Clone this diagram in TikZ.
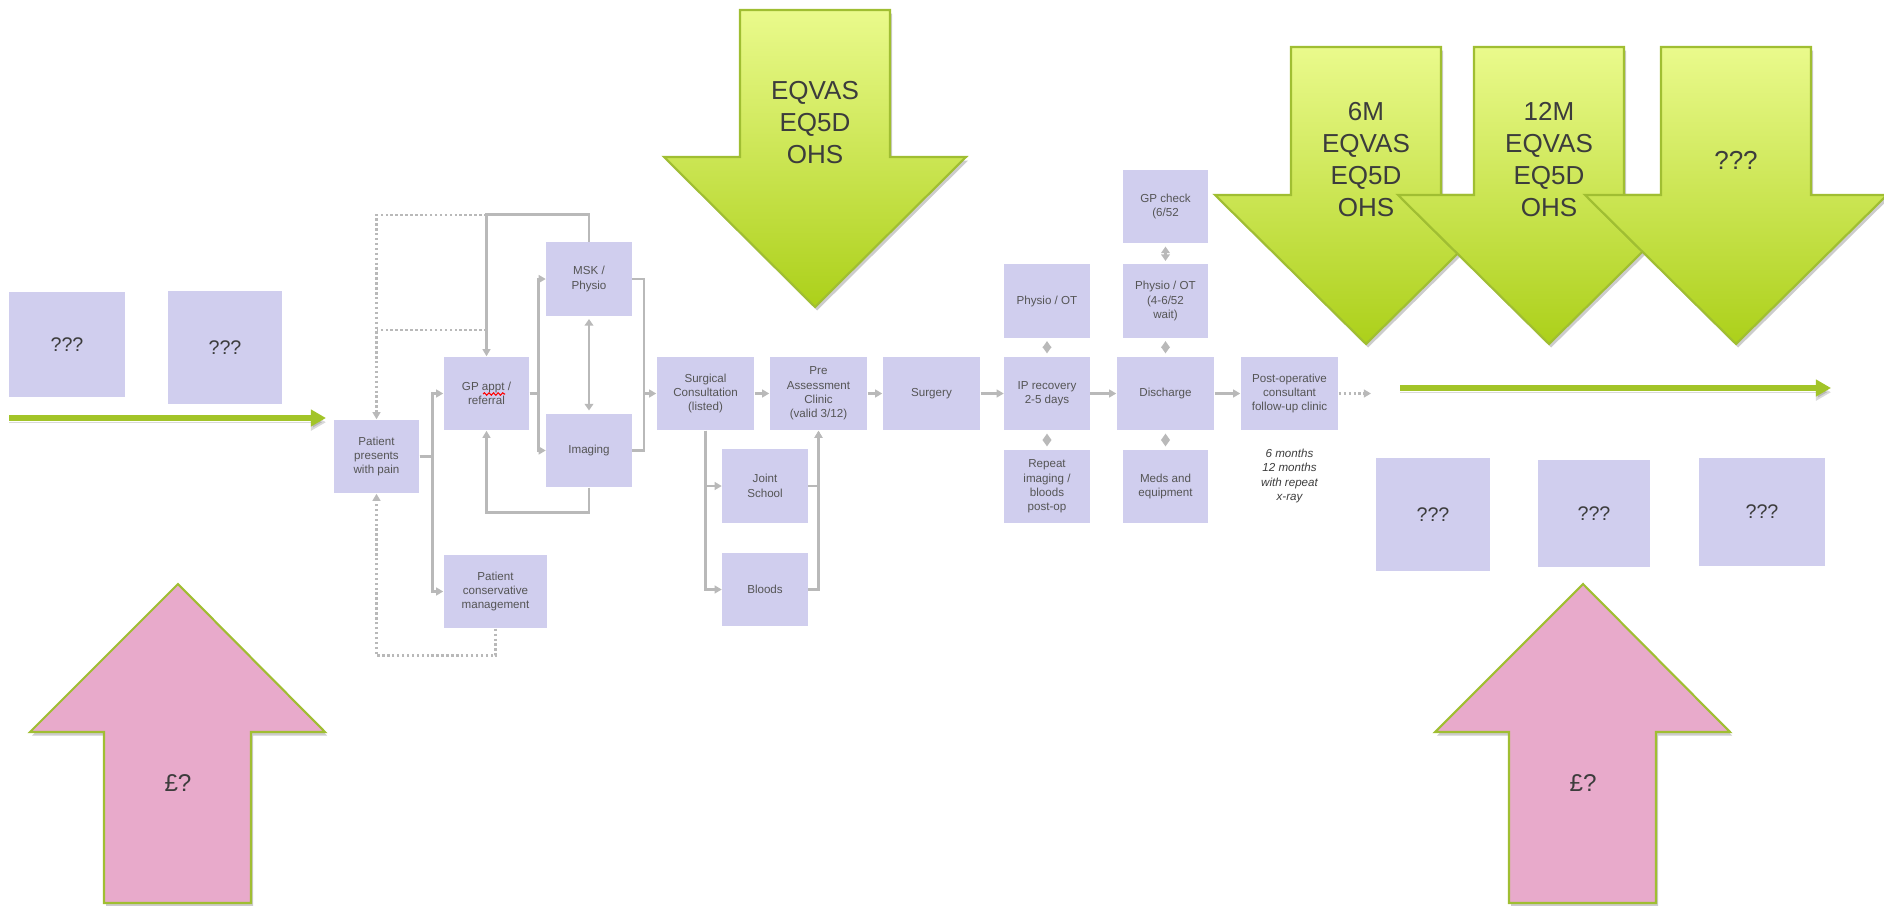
\documentclass[tikz,border=0pt]{standalone}
\usepackage{fontspec}
\setmainfont{Liberation Sans}
\usetikzlibrary{arrows.meta,shadows,decorations.pathmorphing}

\definecolor{boxfill}{RGB}{208,206,238}
\definecolor{boxtext}{RGB}{85,85,85}
\definecolor{darktext}{RGB}{60,60,60}
\definecolor{linegray}{RGB}{185,185,185}
\definecolor{timegreen}{RGB}{162,196,40}
\definecolor{arrowtop}{RGB}{234,250,140}
\definecolor{arrowbot}{RGB}{172,208,26}
\definecolor{arrowedge}{RGB}{160,190,50}
\definecolor{costpink}{RGB}{232,170,203}

\tikzset{
  flowbox/.style={fill=boxfill, text=boxtext, inner sep=0pt, minimum width=0.85cm,
    minimum height=0.73cm, align=center, font=\fontsize{3.3}{4.1}\selectfont},
  widebox/.style={flowbox, minimum width=0.97cm},
  qbox/.style={fill=boxfill, text=darktext, inner sep=0pt, font=\fontsize{5.6}{6.7}\selectfont},
  wire/.style={draw=linegray, line width=0.8pt},
  conn/.style={wire, -{Triangle[length=2pt,width=2.2pt]}},
  dotconn/.style={conn, dash pattern=on 0.7pt off 0.7pt},
  twoway/.style={wire, shorten <=0.8pt, shorten >=0.8pt,
    {Triangle[length=1.9pt,width=2.5pt]}-{Triangle[length=1.9pt,width=2.5pt]}},
  timeline/.style={draw=timegreen, line width=1.7pt, -{Triangle[length=4.3pt,width=4.6pt]},
    preaction={draw=black, opacity=0.15, transform canvas={yshift=-1.2pt}}},
  measure/.style={draw=arrowedge, line width=0.6pt, top color=arrowtop, bottom color=arrowbot,
    drop shadow={shadow xshift=0.6pt, shadow yshift=-1pt, fill=black, opacity=0.2}},
  measuretext/.style={text=darktext, align=center, font=\fontsize{7.4}{9.1}\selectfont},
  cost/.style={draw=arrowedge, line width=0.6pt, fill=costpink,
    drop shadow={shadow xshift=0.6pt, shadow yshift=-1pt, fill=black, opacity=0.2}},
  note/.style={text=darktext, align=center, font=\fontsize{3.3}{4.1}\selectfont\itshape}
}

\begin{document}
\begin{tikzpicture}[x=0.01cm,y=-0.01cm]
    \useasboundingbox (0,0) rectangle (1884,906);

    %% cost arrows
    \draw[cost] (178,584) -- ++(147,148) -- ++(-74,0) -- ++(0,171) -- ++(-147,0) -- ++(0,-171) -- ++(-74,0) -- cycle;
    \node[text=darktext, font=\fontsize{6.9}{8}\selectfont] (costa) at (178,783) {£?};
    \draw[cost] (1583,584) -- ++(147,148) -- ++(-74,0) -- ++(0,171) -- ++(-147,0) -- ++(0,-171) -- ++(-74,0) -- cycle;
    \node[text=darktext, font=\fontsize{6.9}{8}\selectfont] (costb) at (1583,783) {£?};

    %% unknown boxes
    \node[qbox, minimum width=1.16cm, minimum height=1.05cm] (qa) at (67,344.5) {???};
    \node[qbox, minimum width=1.14cm, minimum height=1.13cm] (qb) at (225,347.5) {???};
    \node[qbox, minimum width=1.14cm, minimum height=1.13cm] (qc) at (1433,514.5) {???};
    \node[qbox, minimum width=1.12cm, minimum height=1.07cm] (qd) at (1594,513.5) {???};
    \node[qbox, minimum width=1.26cm, minimum height=1.08cm] (qe) at (1762,512) {???};

    %% time lines
    \coordinate (ta) at (9,418);
    \coordinate (tb) at (326,418);
    \coordinate (tc) at (1400,388);
    \coordinate (td) at (1831,388);
    \draw[timeline] (ta) -- (tb);
    \draw[timeline] (tc) -- (td);

    %% pathway boxes
    \node[flowbox] (pres) at (376.5,456.5) {Patient\\presents\\with pain};
    \node[flowbox] (gp) at (486.5,393.5) {GP appt /\\referral};
    \node[flowbox] (msk) at (589,279) {MSK /\\Physio};
    \node[flowbox] (img) at (589,450.5) {Imaging};
    \node[flowbox, minimum width=1.03cm] (cons) at (495.5,591.5) {Patient\\conservative\\management};
    \node[widebox] (sc) at (705.5,393.5) {Surgical\\Consultation\\(listed)};
    \node[widebox] (pac) at (818.5,393.5) {Pre\\Assessment\\Clinic\\(valid 3/12)};
    \node[widebox] (surg) at (931.5,393.5) {Surgery};
    \node[flowbox] (joint) at (765,486) {Joint\\School};
    \node[flowbox] (bloods) at (765,589.5) {Bloods};
    \node[flowbox] (ip) at (1047,393.5) {IP recovery\\2-5 days};
    \node[flowbox] (ipot) at (1047,301) {Physio / OT};
    \node[flowbox] (rep) at (1047,486.5) {Repeat\\imaging /\\bloods\\post-op};
    \node[widebox] (dis) at (1165.5,393.5) {Discharge};
    \node[flowbox] (dcot) at (1165.5,301) {Physio / OT\\(4-6/52\\wait)};
    \node[flowbox] (gpc) at (1165.5,206.5) {GP check\\(6/52};
    \node[flowbox] (meds) at (1165.5,486.5) {Meds and\\equipment};
    \node[widebox] (post) at (1289.5,393.5) {Post-operative\\consultant\\follow-up clinic};
    \node[note] (fu) at (1289.5,476) {6 months\\12 months\\with repeat\\x-ray};

    %% spelling mark under appt
    \draw[red, line width=0.3pt, decorate, decoration={snake, segment length=1.3pt, amplitude=0.35pt}] (483,394) -- (505,394);

    %% connectors, first part
    \draw[conn] (pres.east) -- ++(13,0) |- (gp.west);
    \draw[conn] (pres.east) -- ++(13,0) |- (cons.west);
    \draw[conn] (gp.east) -- ++(9,0) |- (msk.west);
    \draw[conn] (gp.east) -- ++(9,0) |- (img.west);
    \draw[twoway] (msk.south) -- (img.north);
    \draw[conn] (msk.north) -- ++(0,-27) -| (gp.north);
    \draw[conn] (img.south) -- ++(0,25) -| (gp.south);
    \coordinate (backa) at (486.5,215);
    \coordinate (backb) at (486.5,330);
    \draw[dotconn] (backa) -| (pres.north);
    \draw[wire, dash pattern=on 0.7pt off 0.7pt] (backb) -- (backb -| pres.north);
    \draw[dotconn] (cons.south) -- ++(0,27) -| (pres.south);
    \coordinate (mj) at (644,393.5);
    \draw[wire] (msk.east) -| (mj);
    \draw[wire] (img.east) -| (mj);
    \draw[conn] (mj) -- (sc.west);

    %% connectors, surgery part
    \draw[conn] (sc) -- (pac);
    \draw[conn] (pac) -- (surg);
    \draw[conn] (surg) -- (ip);
    \draw[conn] (ip) -- (dis);
    \draw[conn] (dis) -- (post);
    \draw[conn] (sc.south) |- (joint.west);
    \draw[conn] (sc.south) |- (bloods.west);
    \draw[conn] (joint.east) -| (pac.south);
    \draw[conn] (bloods.east) -| (pac.south);
    \draw[twoway] (ip) -- (ipot);
    \draw[twoway] (ip) -- (rep);
    \draw[twoway] (dis) -- (dcot);
    \draw[twoway] (dis) -- (meds);
    \draw[twoway] (dcot) -- (gpc);
    \coordinate (fwd) at (1371,393.5);
    \draw[dotconn] (post.east) -- (fwd);

    %% outcome measure arrows
    \draw[measure] (815,10) ++(-75,0) -- ++(150,0) -- ++(0,147) -- ++(76,0) -- ++(-151,150) -- ++(-151,-150) -- ++(76,0) -- cycle;
    \node[measuretext] (preop) at (815,123) {EQVAS\\EQ5D\\OHS};
    \draw[measure] (1366,47) ++(-75,0) -- ++(150,0) -- ++(0,148) -- ++(76,0) -- ++(-151,149) -- ++(-151,-149) -- ++(76,0) -- cycle;
    \node[measuretext] (sixm) at (1366,159.5) {6M\\EQVAS\\EQ5D\\OHS};
    \draw[measure] (1549,47) ++(-75,0) -- ++(150,0) -- ++(0,148) -- ++(76,0) -- ++(-151,149) -- ++(-151,-149) -- ++(76,0) -- cycle;
    \node[measuretext] (twelvem) at (1549,159.5) {12M\\EQVAS\\EQ5D\\OHS};
    \draw[measure] (1736,47) ++(-75,0) -- ++(150,0) -- ++(0,148) -- ++(76,0) -- ++(-151,149) -- ++(-151,-149) -- ++(76,0) -- cycle;
    \node[measuretext] (later) at (1736,160) {???};
\end{tikzpicture}
\end{document}
